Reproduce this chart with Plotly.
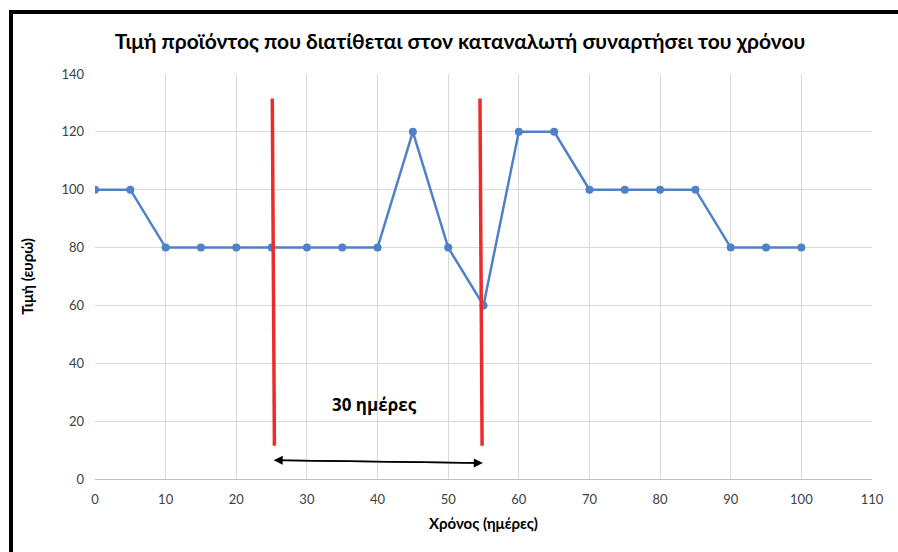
import plotly.graph_objects as go

days = [0, 5, 10, 15, 20, 25, 30, 35, 40, 45, 50, 55, 60, 65, 70, 75, 80, 85, 90, 95, 100]
price = [100, 100, 80, 80, 80, 80, 80, 80, 80, 120, 80, 60, 120, 120, 100, 100, 100, 100, 80, 80, 80]

marker_lines_x = [[25.1, 25.4], [54.5, 54.8]]
marker_lines_y = [131.5, 11.5]
arrow_x = [25.3, 54.9]
arrow_y = [6.5, 5.5]
label_text = "30 ημέρες"
label_pos = (39.6, 25.6)

title = "Τιμή προϊόντος που διατίθεται στον καταναλωτή συναρτήσει του χρόνου"
x_title = "Χρόνος (ημέρες)"
y_title = "Τιμή (ευρώ)"

W, H = 898, 552
L, R, T, B = 95, 26, 74, 73
pw, ph = W - L - R, H - T - B

def px_to_paper_x(px):
    return (px - L) / pw

def px_to_paper_y(py):
    return (H - B - py) / ph

font_fam = "Lato, Noto Sans, sans-serif"

fig = go.Figure()
fig.add_trace(go.Scatter(
    x=days, y=price, mode="lines+markers",
    line=dict(color="#4F81C7", width=2.5),
    marker=dict(color="#4F81C7", size=8),
    showlegend=False, hoverinfo="x+y"))

for xs in marker_lines_x:
    fig.add_shape(type="line", xref="x", yref="y",
                  x0=xs[0], x1=xs[1], y0=marker_lines_y[0], y1=marker_lines_y[1],
                  line=dict(color="#EE2B2B", width=3.5))

# double-headed arrow
fig.add_annotation(x=arrow_x[1], y=arrow_y[1], ax=arrow_x[0], ay=arrow_y[0],
                   xref="x", yref="y", axref="x", ayref="y",
                   showarrow=True, arrowhead=2, arrowsize=1.2, arrowwidth=1.5,
                   arrowcolor="#000000", text="")
fig.add_annotation(x=arrow_x[0], y=arrow_y[0], ax=arrow_x[1], ay=arrow_y[1],
                   xref="x", yref="y", axref="x", ayref="y",
                   showarrow=True, arrowhead=2, arrowsize=1.2, arrowwidth=1.5,
                   arrowcolor="#000000", text="")

fig.add_annotation(x=label_pos[0], y=label_pos[1], xref="x", yref="y",
                   text="<b>" + label_text + "</b>", showarrow=False,
                   font=dict(family="Open Sans, sans-serif", size=17, color="#000000"))

# outer black frame
fig.add_shape(type="rect", xref="paper", yref="paper",
              x0=px_to_paper_x(11), x1=px_to_paper_x(905),
              y0=px_to_paper_y(560), y1=px_to_paper_y(12),
              line=dict(color="#000000", width=4), layer="above")

fig.update_layout(
    width=W, height=H,
    margin=dict(l=L, r=R, t=T, b=B),
    paper_bgcolor="white", plot_bgcolor="white",
    title=dict(text="<b>" + title + "</b>", x=460 / W,
               xanchor="center", y=1 - 42 / H, yanchor="middle",
               font=dict(family=font_fam, size=21, color="#000000")),
    xaxis=dict(range=[0, 110], dtick=10, tick0=0, showgrid=True, gridcolor="#D9D9D9",
               gridwidth=1, showline=True, linecolor="#BFBFBF", linewidth=1,
               zeroline=False, ticks="", ticklabelstandoff=8, automargin=False,
               tickfont=dict(family=font_fam, size=13, color="#404040"),
               title=dict(text="<b>" + x_title + "</b>", standoff=12,
                          font=dict(family=font_fam, size=15, color="#000000"))),
    yaxis=dict(range=[0, 140], dtick=20, tick0=0, showgrid=True, gridcolor="#D9D9D9",
               gridwidth=1, showline=False, zeroline=False, ticks="",
               ticklabelstandoff=10, automargin=False,
               tickfont=dict(family=font_fam, size=13, color="#404040"),
               title=dict(text="<b>" + y_title + "</b>", standoff=24,
                          font=dict(family=font_fam, size=15, color="#000000"))),
)

fig.write_html("out.html", config={"displayModeBar": False},
               post_script="document.body.style.margin='0';")
